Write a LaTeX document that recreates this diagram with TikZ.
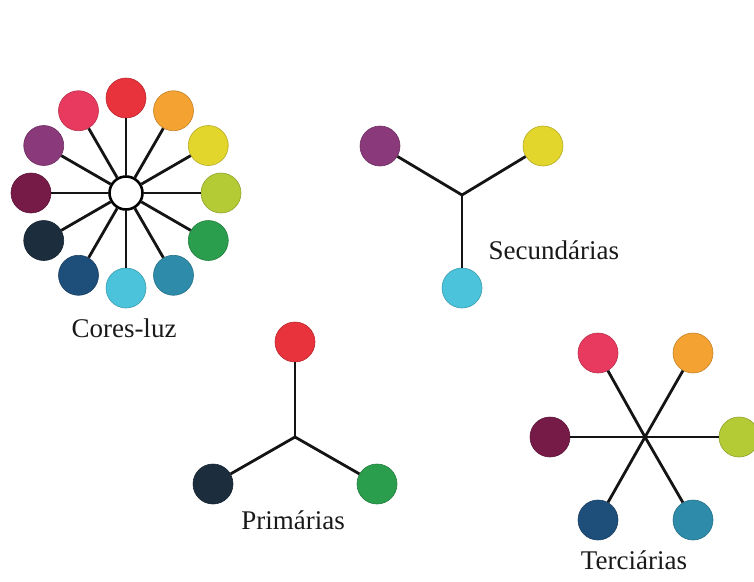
\documentclass[tikz,border=0pt]{standalone}
\usepackage{fontspec}
\setmainfont{Liberation Serif}
\definecolor{cRed}{HTML}{E8323C}
\definecolor{cOrange}{HTML}{F4A232}
\definecolor{cYellow}{HTML}{E2D52C}
\definecolor{cLime}{HTML}{B4CB36}
\definecolor{cGreen}{HTML}{2A9E4C}
\definecolor{cTeal}{HTML}{2E8CAA}
\definecolor{cCyan}{HTML}{4BC3DA}
\definecolor{cBlue}{HTML}{1E4F7A}
\definecolor{cNavy}{HTML}{1C2D3E}
\definecolor{cMaroon}{HTML}{761B48}
\definecolor{cPurple}{HTML}{8A3A7A}
\definecolor{cPink}{HTML}{E83A5E}
\tikzset{
  dot/.style={circle, minimum size=40pt, inner sep=0pt, fill=#1, draw=#1!80!black, line width=0.6pt},
  hub/.style={circle, minimum size=33pt, inner sep=0pt, draw=black, fill=white, line width=2.6pt},
  spoke/.style={line width=2.8pt, draw=black!92},
  lbl/.style={font=\fontsize{27}{30}\selectfont, text=black!90}
}
\begin{document}
\begin{tikzpicture}[x=1pt,y=-1pt]
\useasboundingbox (0,0) rectangle (754,581);
% Cores-luz
\node[hub] (h) at (126,193) {};
\foreach \a/\c/\n in {90/cRed/w1,60/cOrange/w2,30/cYellow/w3,0/cLime/w4,-30/cGreen/w5,-60/cTeal/w6,-90/cCyan/w7,-120/cBlue/w8,-150/cNavy/w9,180/cMaroon/w10,150/cPurple/w11,120/cPink/w12}{
  \node[dot=\c] (\n) at ({126+95*cos(\a)},{193-95*sin(\a)}) {};
  \draw[spoke] (h) -- (\n);
}
\node[lbl] (lcl) at (124,328) {Cores-luz};
% Secundarias
\coordinate (s) at (462,195);
\node[dot=cPurple] (s1) at (380,146) {};
\node[dot=cYellow] (s2) at (543,146) {};
\node[dot=cCyan] (s3) at (462,288) {};
\draw[spoke] (s) -- (s1); \draw[spoke] (s) -- (s2); \draw[spoke] (s) -- (s3);
\node[lbl, anchor=west] (lsec) at (485,250) {Secundárias};
% Primarias
\coordinate (p) at (295,437);
\node[dot=cRed] (p1) at (295,342) {};
\node[dot=cNavy] (p2) at (213,484) {};
\node[dot=cGreen] (p3) at (377,484) {};
\draw[spoke] (p) -- (p1); \draw[spoke] (p) -- (p2); \draw[spoke] (p) -- (p3);
\node[lbl] (lpri) at (293,520) {Primárias};
% Terciarias
\coordinate (t) at (645,437);
\node[dot=cPink] (t1) at (598,353) {};
\node[dot=cOrange] (t2) at (693,353) {};
\node[dot=cMaroon] (t3) at (550,437) {};
\node[dot=cLime] (t4) at (739,437) {};
\node[dot=cBlue] (t5) at (598,520) {};
\node[dot=cTeal] (t6) at (693,520) {};
\foreach \n in {t1,t2,t3,t4,t5,t6}{\draw[spoke] (t) -- (\n);}
\node[lbl] (lter) at (634,560) {Terciárias};
\end{tikzpicture}
\end{document}
